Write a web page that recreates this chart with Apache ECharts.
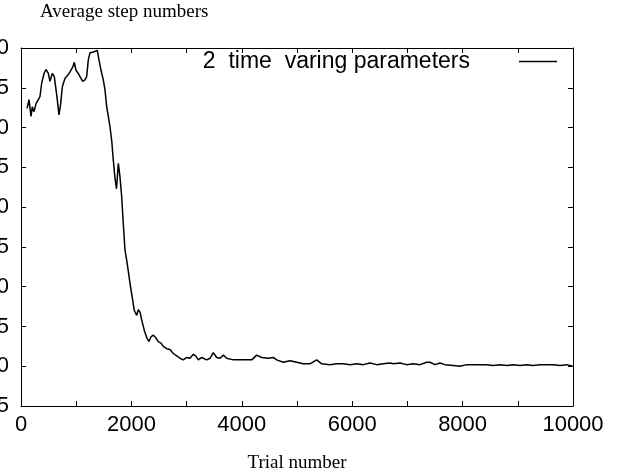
<!DOCTYPE html>
<html>
<head>
<meta charset="utf-8">
<script src="https://cdn.jsdelivr.net/npm/echarts@6/dist/echarts.min.js"></script>
<style>html,body{margin:0;padding:0;background:#fff}#c{width:619px;height:472px}</style>
</head>
<body>
<div id="c"></div>
<script>
var titleText = 'Average step numbers';
var xName = 'Trial number';
var seriesName = '2  time  varing parameters';
var yMin = 5, yMax = 50, yStep = 5;
var xMin = 0, xMax = 10000, xStep = 2000;

var trials = [110,145,181,205,236,272,313,344,375,417,453,495,525,567,603,647,688,719,748,797,839,888,937,966,996,1038,1069,1118,1159,1190,1219,1250,1310,1382,1413,1449,1491,1522,1553,1582,1612,1643,1672,1703,1730,1763,1793,1824,1853,1884,1915,1947,1975,2005,2053,2096,2125,2156,2187,2234,2277,2319,2355,2397,2440,2487,2536,2578,2640,2699,2759,2821,2880,2940,3002,3062,3121,3165,3212,3274,3364,3424,3484,3545,3605,3665,3727,3846,3967,4089,4179,4270,4361,4480,4571,4632,4752,4873,4995,5114,5235,5357,5448,5598,5719,5839,5960,6082,6201,6323,6444,6563,6685,6745,6866,6987,7107,7228,7350,7409,7500,7591,7681,7832,7953,8074,8194,8315,8437,8556,8677,8799,8918,9040,9161,9281,9402,9524,9643,9764,9885,9994];
var steps = [42.4,43.5,41.4,42.6,42.0,43.0,43.5,43.9,45.6,46.8,47.3,46.8,45.8,46.8,46.4,44.1,41.6,43.0,45.1,46.2,46.5,47.0,47.6,48.2,47.2,46.8,46.4,45.8,46.0,46.4,48.5,49.4,49.5,49.7,48.5,47.2,46.0,44.7,42.6,41.4,40.1,38.4,35.9,33.6,32.3,35.5,33.8,31.3,27.9,24.6,23.3,21.8,20.4,19.1,17.0,16.4,17.1,16.8,15.8,14.5,13.6,13.1,13.7,13.9,13.6,13.1,12.9,12.5,12.2,12.1,11.6,11.3,11.0,10.8,11.1,11.0,11.5,11.3,10.8,11.1,10.8,11.0,11.7,11.1,11.0,11.4,11.0,10.8,10.8,10.8,10.8,11.4,11.1,11.0,11.1,10.8,10.5,10.7,10.5,10.3,10.3,10.8,10.3,10.2,10.3,10.3,10.2,10.3,10.2,10.4,10.2,10.3,10.4,10.3,10.4,10.2,10.3,10.2,10.5,10.5,10.2,10.4,10.2,10.1,10.0,10.2,10.2,10.2,10.2,10.1,10.2,10.1,10.2,10.1,10.2,10.1,10.2,10.2,10.2,10.1,10.2,10.0];

var data = trials.map(function (t, i) { return [t, steps[i]]; });

var sans = "'Liberation Sans', Arial, Helvetica, sans-serif";
var serif = "'Liberation Serif', 'Times New Roman', serif";
var tickFont = 22;

function plain(v) { return String(v); }

function xAx(pos, showLabel, name) {
  return {
    type: 'value', position: pos, min: xMin, max: xMax, interval: xStep,
    name: name || '', nameLocation: 'middle', nameGap: 48,
    nameTextStyle: { fontFamily: serif, fontSize: 19, color: '#000' },
    axisLine: { show: true, onZero: false, lineStyle: { color: '#000', width: 1 } },
    axisTick: { show: true, inside: true, length: 5, lineStyle: { color: '#000' } },
    minorTick: { show: true, splitNumber: 2, length: 5, lineStyle: { color: '#000' } },
    splitLine: { show: false },
    axisLabel: { show: showLabel, color: '#000', fontFamily: sans, fontSize: tickFont, margin: 8, formatter: plain, hideOverlap: false }
  };
}
function yAx(pos, showLabel) {
  return {
    type: 'value', position: pos, min: yMin, max: yMax, interval: yStep,
    axisLine: { show: true, onZero: false, lineStyle: { color: '#000', width: 1 } },
    axisTick: { show: true, inside: true, length: 5, lineStyle: { color: '#000' } },
    splitLine: { show: false },
    axisLabel: { show: showLabel, color: '#000', fontFamily: sans, fontSize: tickFont, margin: 12, formatter: plain, hideOverlap: false }
  };
}

var chart = echarts.init(document.getElementById('c'), null, { renderer: 'canvas' });
chart.setOption({
  animation: false,
  backgroundColor: '#fff',
  title: {
    text: titleText, left: 40, top: 3, padding: 0,
    textStyle: { fontFamily: serif, fontSize: 19, fontWeight: 'normal', color: '#000' }
  },
  legend: {
    data: [seriesName], right: 62, top: 50, padding: 0, align: 'right',
    icon: 'rect', itemWidth: 38, itemHeight: 1.5,
    itemStyle: { color: '#000' },
    textStyle: { fontFamily: sans, fontSize: 23, color: '#000', padding: [0, 44, 0, 0] }
  },
  grid: { left: 21, right: 46, top: 48, bottom: 66, containLabel: false, outerBoundsMode: 'none' },
  xAxis: [xAx('bottom', true, xName), xAx('top', false)],
  yAxis: [yAx('left', true), yAx('right', false)],
  series: [{
    name: seriesName, type: 'line', data: data, xAxisIndex: 0, yAxisIndex: 0,
    symbol: 'none', lineStyle: { color: '#000', width: 1.5 }, itemStyle: { color: '#000' }
  }]
});
</script>
</body>
</html>
